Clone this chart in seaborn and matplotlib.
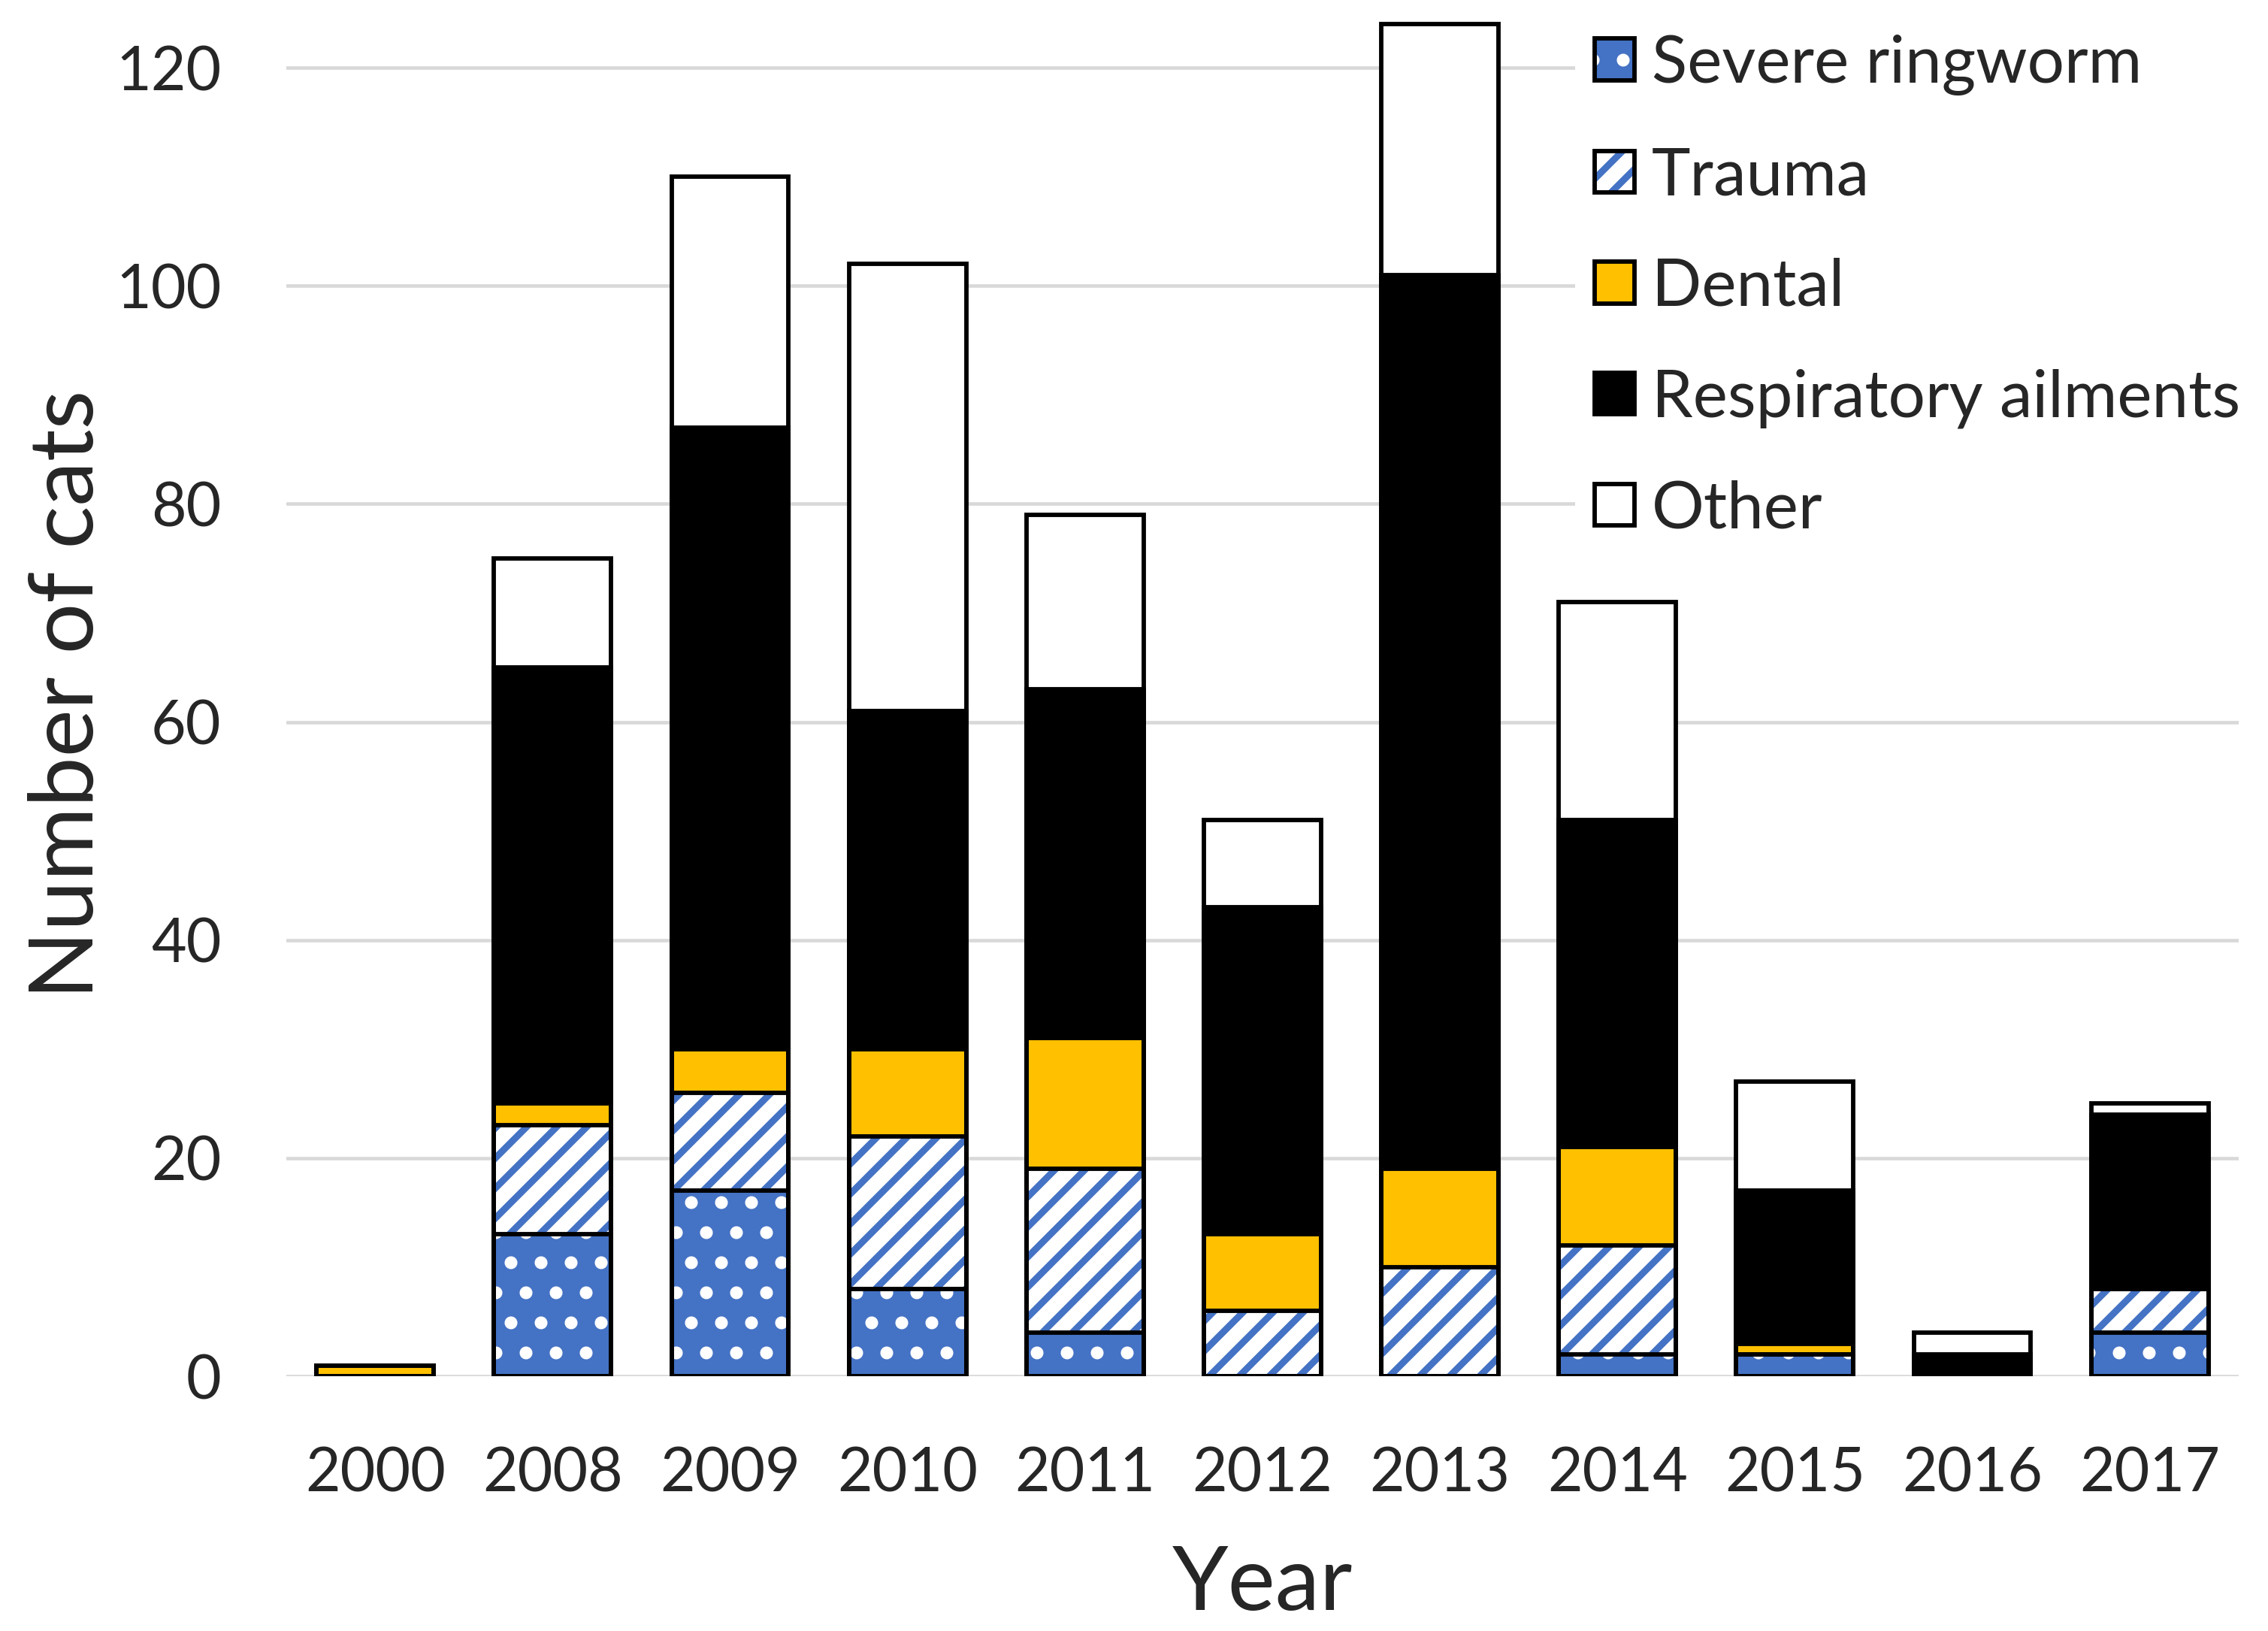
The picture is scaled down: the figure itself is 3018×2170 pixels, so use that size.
import matplotlib
matplotlib.use('Agg')
import matplotlib.pyplot as plt
from matplotlib.patches import Patch
import seaborn as sns

# Data
years = ['2000', '2008', '2009', '2010', '2011', '2012', '2013', '2014', '2015', '2016', '2017']
ringworm = [0, 13, 17, 8, 4, 0, 0, 2, 2, 0, 4]
trauma = [0, 10, 9, 14, 15, 6, 10, 10, 0, 0, 4]
dental = [1, 2, 4, 8, 12, 7, 9, 9, 1, 0, 0]
respiratory = [0, 40, 57, 31, 32, 30, 82, 30, 14, 2, 16]
other = [0, 10, 23, 41, 16, 8, 23, 20, 10, 2, 1]

labels = ['Severe ringworm', 'Trauma', 'Dental', 'Respiratory ailments', 'Other']
series = [ringworm, trauma, dental, respiratory, other]

BLUE = '#4472C4'
YELLOW = '#FFC000'
# (face, hatch, hatch colour)
styles = [
    (BLUE, '.', 'white'),
    ('white', '//', BLUE),
    (YELLOW, None, YELLOW),
    ('black', None, 'black'),
    ('white', None, 'white'),
]

DPI = 240  # hatch tile = 1 inch, so this sets the pattern spacing
HATCH_LW = 2.7

sns.set_style('white')
plt.rcParams['font.family'] = ['Lato', 'DejaVu Sans']
plt.rcParams['hatch.linewidth'] = HATCH_LW


def style_fill(p, face, hatch, hcol):
    p.set_facecolor(face)
    p.set_edgecolor(hcol)
    p.set_linewidth(0)
    if hatch:
        p.set_hatch(hatch)
        if hasattr(p, 'set_hatch_linewidth'):
            p.set_hatch_linewidth(HATCH_LW)


fig = plt.figure(figsize=(3018 / DPI, 2170 / DPI), dpi=DPI)
ax = fig.add_axes([0.1263, 0.1562, 0.8607, 0.8357])

# cumulative totals, stacked by overlapping from the top layer down
cum = []
run = [0] * len(years)
for s in series:
    run = [a + b for a, b in zip(run, s)]
    cum.append(run)

EDGE_LW = 1.75
for i in range(len(series) - 1, -1, -1):
    face, hatch, hcol = styles[i]
    n0 = len(ax.patches)
    sns.barplot(x=years, y=cum[i], color=face, saturation=1, width=0.66,
                ax=ax, zorder=3)
    for p in ax.patches[n0:]:
        style_fill(p, face, hatch, hcol)
    n1 = len(ax.patches)
    sns.barplot(x=years, y=cum[i], color='black', fill=False, width=0.66,
                ax=ax, zorder=4)
    for p in ax.patches[n1:]:
        p.set_facecolor('none')
        p.set_edgecolor('black')
        p.set_linewidth(EDGE_LW)
        p.set_joinstyle('miter')

ax.set_ylim(0, 125)
ax.set_xlim(-0.5, len(years) - 0.5)
ax.set_yticks([0, 20, 40, 60, 80, 100, 120])
ax.yaxis.grid(True, color='#D9D9D9', linewidth=1.4, zorder=0)
ax.xaxis.grid(False)
ax.set_axisbelow(True)
for sp in ax.spines.values():
    sp.set_visible(False)
ax.tick_params(axis='both', length=0, labelsize=24.2)
ax.tick_params(axis='x', pad=28)
ax.tick_params(axis='y', pad=26)
ax.set_xlabel('Year', fontsize=35.8, labelpad=17)
ax.set_ylabel('Number of cats', fontsize=35.8, labelpad=3)

handles = []
for face, hatch, hcol in styles:
    fillp = Patch()
    style_fill(fillp, face, hatch, hcol)
    outl = Patch(facecolor='none', edgecolor='black', linewidth=EDGE_LW)
    handles.append((fillp, outl))

leg = fig.legend(handles, labels, loc='upper left', bbox_to_anchor=(0.6945, 0.991),
                 fontsize=26.2, frameon=True, facecolor='white', edgecolor='none',
                 framealpha=1, handlelength=0.6, handleheight=0.6,
                 handletextpad=0.27, labelspacing=0.785, borderpad=0.3,
                 borderaxespad=0)
leg.set_zorder(10)

fig.savefig('out.png', dpi=DPI)
